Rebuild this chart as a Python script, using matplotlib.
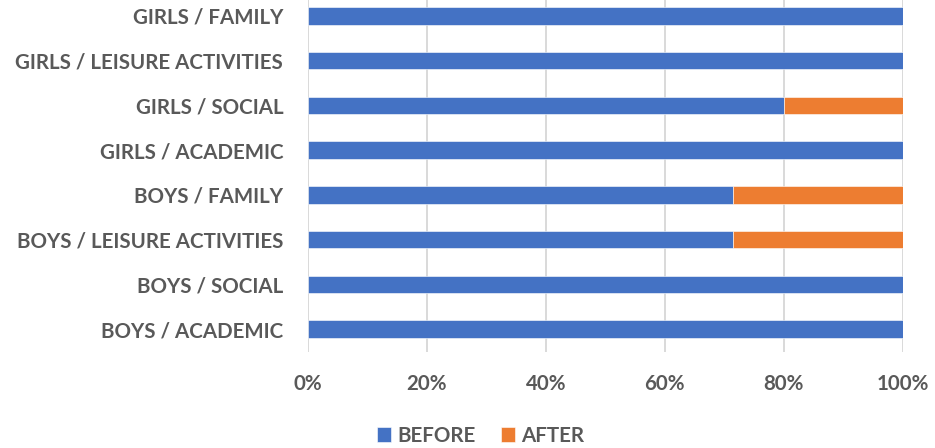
import matplotlib
matplotlib.use("Agg")
import matplotlib.pyplot as plt
from matplotlib.ticker import PercentFormatter

categories = [
    "BOYS / ACADEMIC",
    "BOYS / SOCIAL",
    "BOYS / LEISURE ACTIVITIES",
    "BOYS / FAMILY",
    "GIRLS / ACADEMIC",
    "GIRLS / SOCIAL",
    "GIRLS / LEISURE ACTIVITIES",
    "GIRLS / FAMILY",
]
before = [100, 100, 71.4, 71.4, 100, 80, 100, 100]
after = [0, 0, 28.6, 28.6, 0, 20, 0, 0]
series_names = ["BEFORE", "AFTER"]
ticks = [0, 20, 40, 60, 80, 100]

BLUE = "#4472C4"
ORANGE = "#ED7D31"
TEXT = "#595959"
GRID = "#D9D9D9"
FS = 14.8

plt.rcParams["font.family"] = ["Lato", "DejaVu Sans"]
plt.rcParams["font.weight"] = "bold"

fig = plt.figure(figsize=(9.35, 4.48), dpi=100)
ax = fig.add_axes([0.3289, 0.2154, 0.9658 - 0.3289, 1.0143 - 0.2154])

y = list(range(len(categories)))
b1 = ax.barh(y, before, height=0.39, color=BLUE, edgecolor="white",
             linewidth=0.4, label=series_names[0], zorder=3)
b2 = ax.barh(y, after, left=before, height=0.39, color=ORANGE,
             edgecolor="white", linewidth=0.4, label=series_names[1], zorder=3)

ax.set_xlim(0, 100)
ax.set_ylim(-0.5, len(categories) - 0.5)
ax.set_xticks(ticks)
ax.xaxis.set_major_formatter(PercentFormatter(decimals=0))
ax.set_yticks(y)
ax.set_yticklabels(categories)

ax.grid(axis="x", color=GRID, linewidth=1.4, zorder=0)
ax.grid(axis="y", visible=False)
for s in ax.spines.values():
    s.set_visible(False)

ax.tick_params(axis="both", length=0, colors=TEXT, labelsize=FS)
ax.tick_params(axis="y", pad=17.5)
ax.tick_params(axis="x", pad=16)
for lab in ax.get_xticklabels() + ax.get_yticklabels():
    lab.set_fontweight("bold")
    lab.set_color(TEXT)

leg = ax.legend(
    handles=[b1, b2],
    loc="center",
    bbox_to_anchor=(0.514, 1 - 435.5 / 448),
    bbox_transform=fig.transFigure,
    ncol=2,
    frameon=False,
    handlelength=0.7,
    handleheight=0.7,
    handletextpad=0.3,
    columnspacing=1.2,
    prop={"size": FS, "weight": "bold"},
)
for t in leg.get_texts():
    t.set_color(TEXT)

fig.savefig("out.png", dpi=100)
